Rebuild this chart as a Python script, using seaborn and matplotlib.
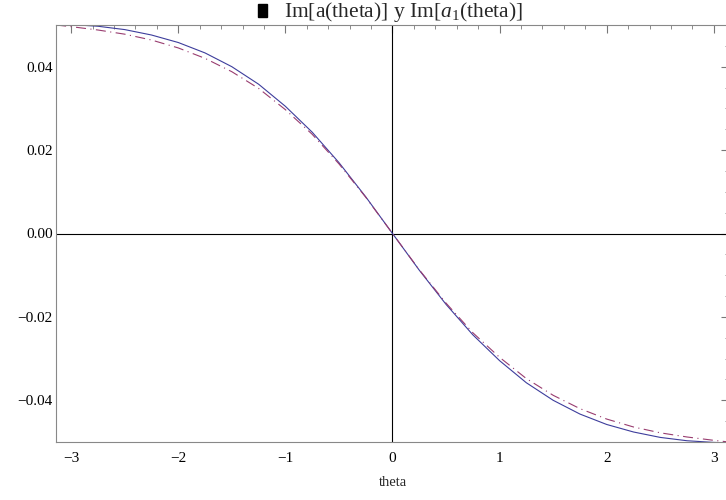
import numpy as np
import pandas as pd
import seaborn as sns
import matplotlib.pyplot as plt
from matplotlib.patches import Rectangle
from matplotlib.ticker import MultipleLocator

# values
theta = [-3.14, -3.0, -2.75, -2.5, -2.25, -2.0, -1.75, -1.5, -1.25, -1.0, -0.75, -0.5, -0.25,
         0.0, 0.25, 0.5, 0.75, 1.0, 1.25, 1.5, 1.75, 2.0, 2.25, 2.5, 2.75, 3.0, 3.14]
im_a = [0.0502, 0.0501, 0.0497, 0.0489, 0.0476, 0.0458, 0.0433, 0.0400, 0.0358, 0.0305, 0.0243, 0.0170, 0.0088,
        0.0, -0.0088, -0.0170, -0.0243, -0.0305, -0.0358, -0.0400, -0.0433, -0.0458, -0.0476, -0.0489, -0.0497, -0.0501, -0.0502]
im_a1 = [0.0500, 0.0496, 0.0488, 0.0478, 0.0464, 0.0445, 0.0420, 0.0388, 0.0348, 0.0297, 0.0238, 0.0167, 0.0087,
         0.0, -0.0087, -0.0167, -0.0238, -0.0297, -0.0348, -0.0388, -0.0420, -0.0445, -0.0464, -0.0478, -0.0488, -0.0496, -0.0500]

df = pd.DataFrame({
    "theta": theta * 2,
    "value": im_a + im_a1,
    "serie": ["a"] * len(theta) + ["a1"] * len(theta),
})

sns.set_style("white")
plt.rcParams["font.family"] = ["Liberation Serif", "DejaVu Sans"]
plt.rcParams["mathtext.fontset"] = "custom"
plt.rcParams["mathtext.rm"] = "Liberation Serif"
plt.rcParams["mathtext.it"] = "Liberation Serif:italic"

fig = plt.figure(figsize=(7.26, 5.0), dpi=100)
# right edge sits just past the image border, like the reference
ax = fig.add_axes([56 / 726, 58 / 500, 673 / 726, 417 / 500])

sns.lineplot(data=df, x="theta", y="value", hue="serie", style="serie",
             palette={"a": "#3d3d9c", "a1": "#993d70"},
             dashes={"a": "", "a1": (9, 4, 1, 4)},
             linewidth=0.8, sort=False, legend=False, ax=ax)

ax.axhline(0, color="black", lw=0.8, zorder=1)
ax.axvline(0, color="black", lw=0.8, zorder=1)

ax.set_xlim(-np.pi, np.pi)
ax.set_ylim(-0.05, 0.05)
ax.xaxis.set_major_locator(MultipleLocator(1))
ax.xaxis.set_minor_locator(MultipleLocator(0.2))
ax.yaxis.set_major_locator(MultipleLocator(0.02))
ax.yaxis.set_minor_locator(MultipleLocator(0.005))
ax.yaxis.set_major_formatter(plt.FuncFormatter(lambda v, p: f"{v:.2f}".replace("-", "\u2212")))
ax.xaxis.set_major_formatter(plt.FuncFormatter(lambda v, p: f"{v:.0f}".replace("-", "\u2212")))

ax.tick_params(which="both", direction="in", top=True, right=True, color="#777777",
               labelsize=11, labelcolor="black")
ax.tick_params(which="major", length=6, width=0.8)
ax.tick_params(which="minor", length=3, width=0.6)
ax.tick_params(axis="x", which="major", pad=7)
ax.tick_params(axis="y", which="major", pad=2.5)
for s in ax.spines.values():
    s.set_color("#888888")
    s.set_linewidth(0.8)

ax.set_xlabel("theta", fontsize=10.5, labelpad=8)
ax.set_ylabel("")

# title with the black legend swatch in front of it
fig.patches.append(Rectangle((258 / 726, 1 - 17.3 / 500), 8.5 / 726, 13.3 / 500,
                             transform=fig.transFigure, color="black"))
fig.text(403.5 / 726, 1 - 17.5 / 500, "Im[a(theta)] y Im[$a_1$(theta)]",
         ha="center", va="baseline", fontsize=15.5)

fig.savefig("out.png", dpi=100)
